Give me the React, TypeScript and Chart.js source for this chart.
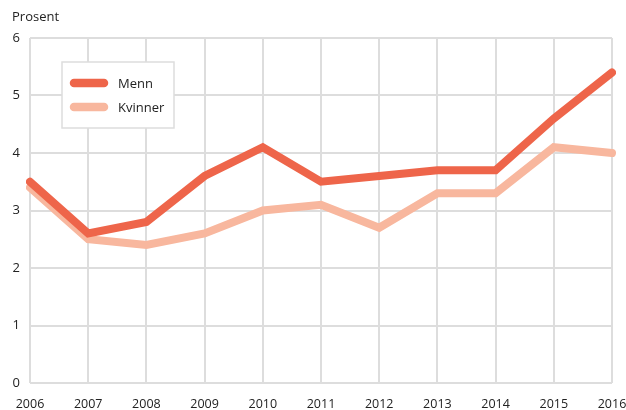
import React, { useEffect, useRef } from "react";
import { Chart, registerables } from "chart.js";

Chart.register(...registerables);

const years = ["2006", "2007", "2008", "2009", "2010", "2011", "2012", "2013", "2014", "2015", "2016"];
const menn = [3.5, 2.6, 2.8, 3.6, 4.1, 3.5, 3.6, 3.7, 3.7, 4.6, 5.4];
const kvinner = [3.4, 2.5, 2.4, 2.6, 3.0, 3.1, 2.7, 3.3, 3.3, 4.1, 4.0];
const yTitle = "Prosent";

const FONT = "'Open Sans', 'Noto Sans', sans-serif";
const MENN_COLOR = "#ee654a";
const KVINNER_COLOR = "#f8b79e";

const overlayPlugin = {
  id: "overlay",
  afterDraw(chart: any) {
    const { ctx, chartArea } = chart;
    ctx.save();
    ctx.font = `13px ${FONT}`;
    ctx.fillStyle = "#222";
    ctx.textAlign = "left";
    ctx.textBaseline = "middle";
    ctx.fillText(yTitle, chartArea.left - 18, chartArea.top - 21);

    const bx = chartArea.left + 32;
    const by = chartArea.top + 24;
    const bw = 112;
    const bh = 66;
    ctx.fillStyle = "#ffffff";
    ctx.fillRect(bx, by, bw, bh);
    ctx.strokeStyle = "#dddddd";
    ctx.lineWidth = 1.5;
    ctx.strokeRect(bx, by, bw, bh);
    chart.data.datasets.forEach((ds: any, i: number) => {
      const y = by + 21 + i * 24;
      ctx.strokeStyle = ds.borderColor;
      ctx.lineWidth = 8.5;
      ctx.lineCap = "round";
      ctx.beginPath();
      ctx.moveTo(bx + 12, y);
      ctx.lineTo(bx + 42, y);
      ctx.stroke();
      ctx.fillStyle = "#222";
      ctx.font = `13px ${FONT}`;
      ctx.textAlign = "left";
      ctx.textBaseline = "middle";
      ctx.fillText(ds.label, bx + 56, y + 1);
    });
    ctx.restore();
  },
};

export default function App() {
  const ref = useRef<HTMLCanvasElement | null>(null);
  useEffect(() => {
    document.body.style.margin = "0";
    const canvas = ref.current!;
    const chart = new Chart(canvas, {
      type: "line",
      data: {
        labels: years,
        datasets: [
          {
            label: "Menn",
            data: menn,
            borderColor: MENN_COLOR,
            backgroundColor: MENN_COLOR,
            borderWidth: 8,
            pointRadius: 0,
            borderCapStyle: "round",
            borderJoinStyle: "miter",
            tension: 0,
          },
          {
            label: "Kvinner",
            data: kvinner,
            borderColor: KVINNER_COLOR,
            backgroundColor: KVINNER_COLOR,
            borderWidth: 8,
            pointRadius: 0,
            borderCapStyle: "round",
            borderJoinStyle: "miter",
            tension: 0,
          },
        ],
      },
      options: {
        responsive: false,
        animation: false,
        layout: { padding: { top: 38, left: 12, right: 0, bottom: 0 } },
        plugins: {
          legend: { display: false },
          tooltip: { enabled: false },
          title: { display: false },
        },
        scales: {
          x: {
            offset: false,
            grid: { color: "#dddddd", lineWidth: 2, drawTicks: false },
            border: { display: false },
            ticks: {
              color: "#222",
              font: { family: FONT, size: 12.5 },
              padding: 14,
              maxRotation: 0,
              autoSkip: false,
            },
            afterFit(scale: any) {
              scale.height = 27;
              scale.paddingLeft = 0;
              scale.paddingRight = 14;
            },
          },
          y: {
            min: 0,
            max: 6,
            grid: { color: "#dddddd", lineWidth: 2, drawTicks: false },
            border: { display: false },
            ticks: {
              stepSize: 1,
              color: "#222",
              font: { family: FONT, size: 13 },
              padding: 10,
            },
            afterFit(scale: any) {
              scale.width = 18;
              scale.paddingTop = 0;
              scale.paddingBottom = 0;
            },
          },
        },
      },
      plugins: [overlayPlugin],
    });
    return () => chart.destroy();
  }, []);
  return <canvas ref={ref} width={626} height={410} style={{ display: "block" }} />;
}
